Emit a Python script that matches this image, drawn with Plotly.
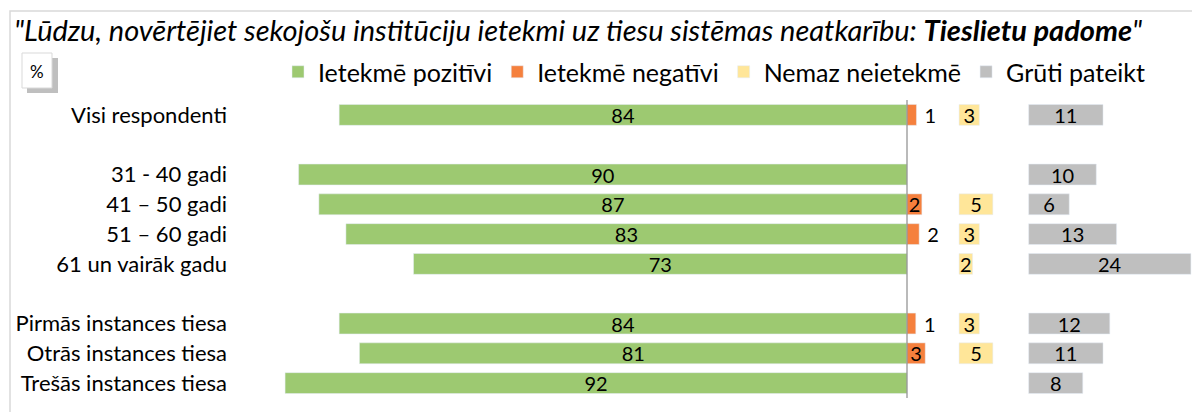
import plotly.graph_objects as go

categories = ["Visi respondenti", "", "31 - 40 gadi", "41 – 50 gadi", "51 – 60 gadi",
              "61 un vairāk gadu", "", "Pirmās instances tiesa", "Otrās instances tiesa",
              "Trešās instances tiesa"]
positive = [84, None, 90, 87, 83, 73, None, 84, 81, 92]
negative = [1.4, None, None, 2.2, 1.8, None, None, 1.3, 2.7, None]
negative_labels = ["1", "", "", "2", "2", "", "", "1", "3", ""]
neutral = [3, None, None, 5, 3, 2, None, 3, 5, None]
hard_to_say = [11, None, 10, 6, 13, 24, None, 12, 11, 8]
series_names = ["Ietekmē pozitīvi", "Ietekmē negatīvi", "Nemaz neietekmē", "Grūti pateikt"]

FONT = "Lato"
colors = ["#9DC971", "#F5803D", "#FFE699", "#BFBFBF"]
yellow_base = 7.7
gray_base = 18.0
LBL = 20

# page body has an 8px margin; figure is sized to fit the 1200x412 window
OFF = 8
W = 1200 - OFF
H = 412 - OFF
# plot area in window pixels: x 235..1198, y 100..398
L = 235 - OFF
R = 1200 - 1198
T = 100 - OFF
B = 412 - 398

ypos = list(range(len(categories)))

fig = go.Figure()
fig.add_trace(go.Bar(
    y=ypos, x=positive, base=[-v if v is not None else None for v in positive],
    orientation="h", name=series_names[0], marker_color=colors[0],
    text=[str(v) if v is not None else "" for v in positive],
    textposition="inside", insidetextanchor="middle", constraintext="none",
    textangle=0, textfont=dict(family=FONT, size=LBL, color="#000"),
    width=0.7, hoverinfo="skip"))
neg_pos = ["inside" if (v is not None and v >= 2) else "outside" for v in negative]
fig.add_trace(go.Bar(
    y=ypos, x=negative, base=0, orientation="h", name=series_names[1],
    marker_color=colors[1],
    text=[("\u00a0" + t if p == "outside" else t) for t, p in zip(negative_labels, neg_pos)],
    textposition=neg_pos, insidetextanchor="middle", constraintext="none",
    textangle=0, textfont=dict(family=FONT, size=LBL, color="#000"),
    cliponaxis=False, width=0.7, hoverinfo="skip"))
fig.add_trace(go.Bar(
    y=ypos, x=neutral, base=yellow_base, orientation="h", name=series_names[2],
    marker_color=colors[2],
    text=[str(v) if v is not None else "" for v in neutral],
    textposition="inside", insidetextanchor="middle", constraintext="none",
    textangle=0, textfont=dict(family=FONT, size=LBL, color="#000"),
    width=0.7, hoverinfo="skip"))
fig.add_trace(go.Bar(
    y=ypos, x=hard_to_say, base=gray_base, orientation="h", name=series_names[3],
    marker_color=colors[3],
    text=[str(v) if v is not None else "" for v in hard_to_say],
    textposition="inside", insidetextanchor="middle", constraintext="none",
    textangle=0, textfont=dict(family=FONT, size=LBL, color="#000"),
    width=0.7, hoverinfo="skip"))

pw = W - L - R
ph = H - T - B
ppu = 6.76
zero_px = 907 - OFF
xr = [(L - zero_px) / ppu, (W - R - zero_px) / ppu]

def px_x(p):
    # window pixel -> paper x
    return (p - OFF - L) / pw

def px_y(p):
    # window pixel -> paper y
    return (H - B - (p - OFF)) / ph

shapes = [
    dict(type="rect", xref="paper", yref="paper", x0=px_x(10), x1=px_x(1215),
         y0=px_y(430), y1=px_y(11), line=dict(color="#D9D9D9", width=1.5), layer="below"),
    dict(type="line", xref="x", yref="paper", x0=0, x1=0, y0=0, y1=1,
         line=dict(color="#8C8C8C", width=1.2)),
    dict(type="rect", xref="paper", yref="paper", x0=px_x(27), x1=px_x(58),
         y0=px_y(93), y1=px_y(58), fillcolor="#BFBFBF", line=dict(width=0)),
    dict(type="rect", xref="paper", yref="paper", x0=px_x(22), x1=px_x(52),
         y0=px_y(88), y1=px_y(53), fillcolor="#FFFFFF", line=dict(color="#D9D9D9", width=1)),
]

annotations = [
    dict(text="%", xref="paper", yref="paper", x=px_x(37), y=px_y(71),
         xanchor="center", yanchor="middle", showarrow=False,
         font=dict(family=FONT, size=17, color="#000")),
]

fig.update_layout(
    width=W, height=H, margin=dict(l=L, r=R, t=T, b=B, autoexpand=False),
    paper_bgcolor="white", plot_bgcolor="white",
    barmode="overlay", showlegend=True,
    title=dict(text='<i>"Lūdzu, novērtējiet sekojošu institūciju ietekmi uz tiesu sistēmas neatkarību: <b>Tieslietu padome</b>"</i>',
               xref="container", yref="container", x=(14 - OFF) / W, xanchor="left",
               y=1 - (31 - OFF) / H, yanchor="middle",
               font=dict(family=FONT, size=29, color="#000")),
    legend=dict(orientation="h", x=px_x(278), y=px_y(72), xanchor="left", yanchor="middle",
                font=dict(family=FONT, size=25, color="#000"), traceorder="normal",
                itemclick=False, itemdoubleclick=False, bgcolor="rgba(0,0,0,0)"),
    xaxis=dict(range=xr, showgrid=False, zeroline=False, showticklabels=False,
               showline=False, fixedrange=True),
    yaxis=dict(range=[len(categories) - 0.5, -0.5], tickvals=ypos, ticktext=categories,
               showgrid=False, zeroline=False, showline=False, ticks="",
               ticklabelstandoff=7,
               tickfont=dict(family=FONT, size=22, color="#000"), fixedrange=True),
    shapes=shapes, annotations=annotations,
)

fig.write_html("out.html")
